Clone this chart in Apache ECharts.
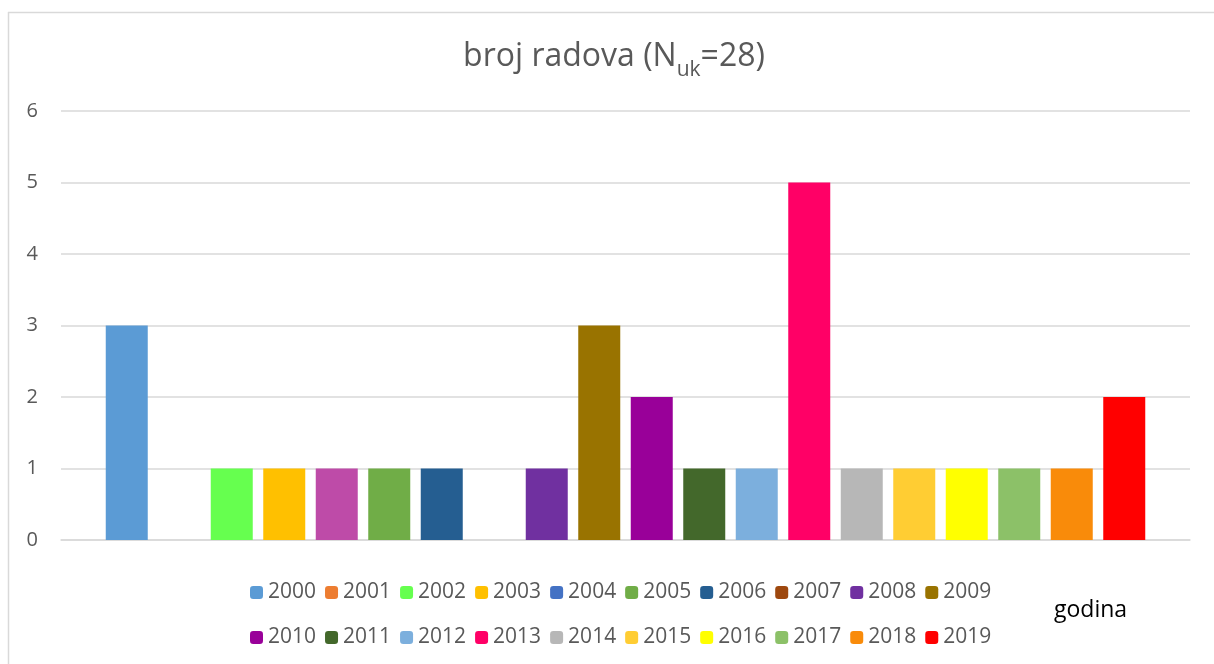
<!DOCTYPE html>
<html>
<head>
<meta charset="utf-8">
<script src="https://cdn.jsdelivr.net/npm/echarts@6/dist/echarts.min.js"></script>
<style>
html,body{margin:0;padding:0;background:#fff;}
#c{width:1214px;height:664px;}
</style>
</head>
<body>
<div id="c"></div>
<script>
const years = ['2000','2001','2002','2003','2004','2005','2006','2007','2008','2009','2010','2011','2012','2013','2014','2015','2016','2017','2018','2019'];
const counts = [3,0,1,1,1,1,1,0,1,3,2,1,1,5,1,1,1,1,1,2];
const seriesColors = ['#5B9BD5','#ED7D31','#66FF4F','#FFC000','#4472C4','#70AD47','#255E91','#9E480E','#7030A0','#997300','#990099','#43682B','#7CAFDD','#FF0066','#B7B7B7','#FFCD33','#FFFF00','#8CC168','#F98B0A','#FF0000'];
const barColorOverrides = {'2004':'#BE4BA8'};
const yTicks = [0,1,2,3,4,5,6];
const titleParts = ['broj radova (N', 'uk', '=28)'];

const chart = echarts.init(document.getElementById('c'));
const series = years.map((y,i)=>{
  const item = barColorOverrides[y] ? {value: counts[i], itemStyle:{color: barColorOverrides[y]}} : counts[i];
  return {
    type:'bar', name:y, data:[item],
    itemStyle:{color: seriesColors[i]},
    barWidth:42, barGap:'25%',
    emphasis:{disabled:true}, animation:false
  };
});

// title built from three text pieces (subscript)
const mainFont = '32px "Open Sans"', subFont = '21px "Open Sans"';
const ctx = document.createElement('canvas').getContext('2d');
ctx.font = mainFont; const w0 = ctx.measureText(titleParts[0]).width, w2 = ctx.measureText(titleParts[2]).width;
ctx.font = subFont; const w1 = ctx.measureText(titleParts[1]).width;
const tx = 614 - (w0 + w1 + w2) / 2;
const titleY = 57, subY = 70;

const legendText = {fontFamily:'Open Sans', fontSize:21, color:'#595959'};
chart.setOption({
  animation:false,
  grid:{left:61, right:24, top:111, bottom:124},
  xAxis:{type:'category', data:[''], axisTick:{show:false}, axisLabel:{show:false},
    axisLine:{lineStyle:{color:'#D9D9D9', width:1.5}}},
  yAxis:{type:'value', min:yTicks[0], max:yTicks[yTicks.length-1], interval:1,
    axisLine:{show:false}, axisTick:{show:false},
    axisLabel:{fontFamily:'Open Sans', fontSize:20, color:'#595959', margin:23},
    splitLine:{lineStyle:{color:'#D9D9D9', width:1.5}}},
  legend:[
    {data:years.slice(0,10), left:245, top:577, itemWidth:13, itemHeight:13, itemGap:9, textStyle:legendText, selectedMode:false},
    {data:years.slice(10), left:245, top:622, itemWidth:13, itemHeight:13, itemGap:9, textStyle:legendText, selectedMode:false}
  ],
  graphic:[
    {type:'line', shape:{x1:8.5,y1:12,x2:8.5,y2:664}, style:{stroke:'#D9D9D9', lineWidth:1.5}},
    {type:'line', shape:{x1:8,y1:12.5,x2:1214,y2:12.5}, style:{stroke:'#D9D9D9', lineWidth:1.5}},
    {type:'text', x:tx, y:titleY, style:{text:titleParts[0], font:mainFont, fill:'#595959', verticalAlign:'middle', align:'left'}},
    {type:'text', x:tx + w0, y:subY, style:{text:titleParts[1], font:subFont, fill:'#595959', verticalAlign:'middle', align:'left'}},
    {type:'text', x:tx + w0 + w1, y:titleY, style:{text:titleParts[2], font:mainFont, fill:'#595959', verticalAlign:'middle', align:'left'}},
    {type:'text', left:1054, top:599, style:{text:'godina', font:'23px "Open Sans"', fill:'#000'}}
  ],
  series: series
});
</script>
</body>
</html>
